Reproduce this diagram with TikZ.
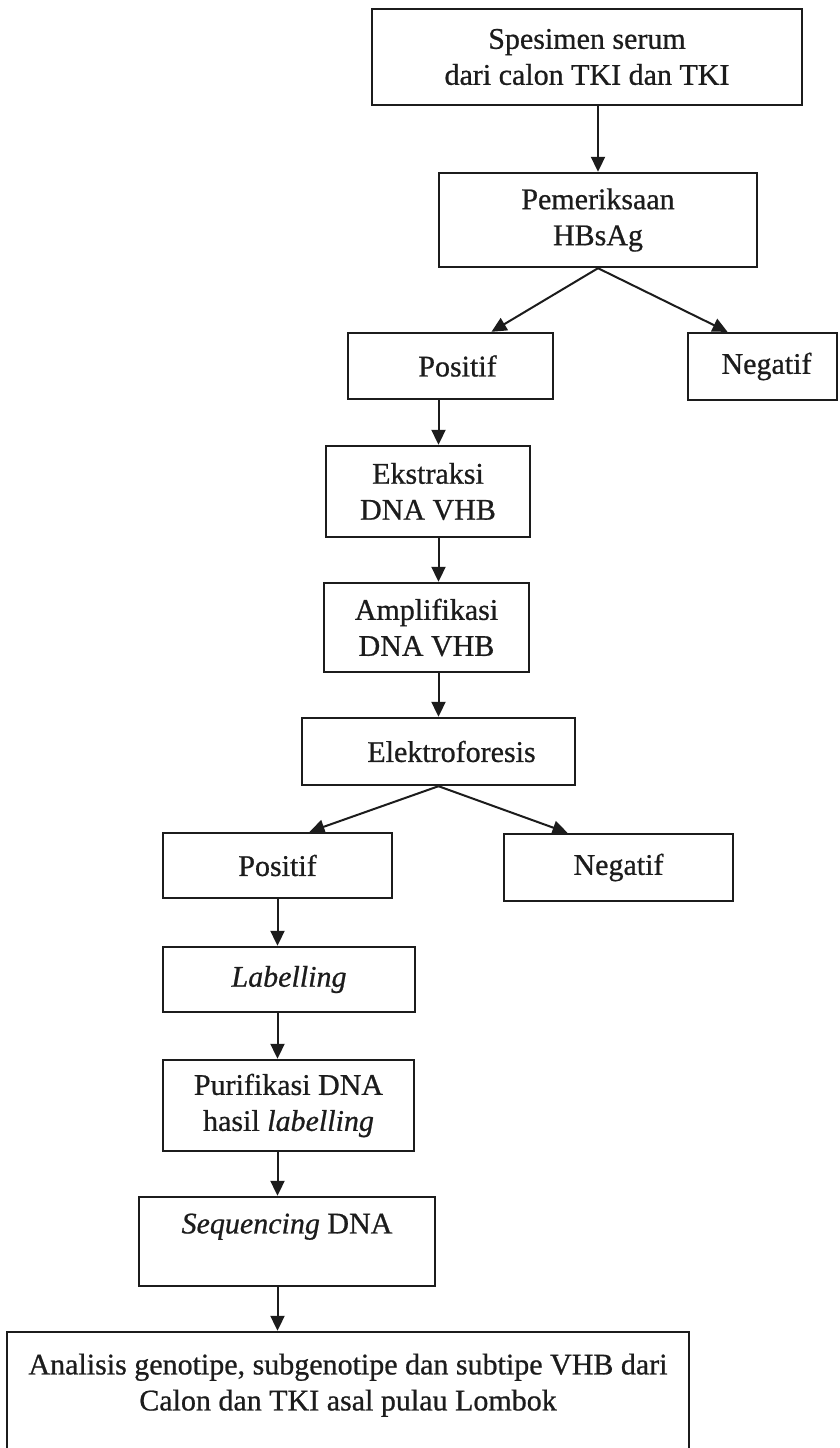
\documentclass[tikz,border=0pt]{standalone}
\usepackage{fontspec}
\setmainfont{Liberation Serif}[FakeBold=0.7]
\usetikzlibrary{arrows.meta}
\definecolor{ink}{RGB}{28,28,28}
\begin{document}
\begin{tikzpicture}[x=1pt,y=-1pt,
  box/.style={draw=ink, text=ink, line width=2.4pt, inner sep=0pt, align=center,
    font=\fontsize{30}{36}\selectfont},
  arr/.style={draw=ink, line width=2pt, -{Triangle[length=15pt,width=14pt]}}]
\useasboundingbox (0,0) rectangle (839,1448);
\clip (0,0) rectangle (839,1448);
\fill[white] (0,0) rectangle (839,1448);

\node[box, minimum width=430pt, minimum height=96pt] (b1) at (587,57) {Spesimen serum\\dari calon TKI dan TKI};
\node[box, minimum width=318pt, minimum height=94pt] (b2) at (598,220) {Pemeriksaan\\HBsAg};
\node[box, minimum width=205pt, minimum height=66pt] (pos1) at (450.5,366) {\hspace{14pt}Positif};
\node[box, minimum width=149pt, minimum height=67pt] (neg1) at (762.5,366.5) {\hspace{8pt}Negatif};
\node[box, minimum width=204pt, minimum height=91pt] (ekstr) at (428,491.5) {Ekstraksi\\DNA VHB};
\node[box, minimum width=205pt, minimum height=89pt] (ampl) at (426.5,627.5) {Amplifikasi\\DNA VHB};
\node[box, minimum width=273pt, minimum height=67pt] (elek) at (438.5,751.5) {\hspace{26pt}Elektroforesis};
\node[box, minimum width=229pt, minimum height=65pt] (pos2) at (277.5,865.5) {Positif};
\node[box, minimum width=229pt, minimum height=67pt] (neg2) at (618.5,867.5) {Negatif};
\node[box, minimum width=252pt, minimum height=65pt] (lab) at (289,979.5) {\textit{Labelling}};
\node[box, minimum width=251pt, minimum height=91pt] (puri) at (288.5,1105.5) {Purifikasi DNA\\hasil \textit{labelling}};
\node[box, minimum width=296pt, minimum height=89pt] (seq) at (287,1241.5) {\textit{Sequencing} DNA\\ \mbox{}};
\node[box, minimum width=682pt, minimum height=136pt] (final) at (348,1400) {Analisis genotipe, subgenotipe dan subtipe VHB dari\\Calon dan TKI asal pulau Lombok\\ \mbox{}};

\draw[arr] (b1.south -| b2.north) -- (b2.north);
\draw[arr] (b2.south) -- ([xshift=41pt]pos1.north);
\draw[arr] (b2.south) -- ([xshift=-35pt]neg1.north);
\draw[arr] (pos1.south -| elek.north) -- (ekstr.north -| elek.north);
\draw[arr] (ekstr.south -| elek.north) -- (ampl.north -| elek.north);
\draw[arr] (ampl.south -| elek.north) -- (elek.north);
\draw[arr] (elek.south) -- ([xshift=32pt]pos2.north);
\draw[arr] (elek.south) -- ([xshift=-51pt]neg2.north);
\draw[arr] (pos2.south) -- (lab.north -| pos2.south);
\draw[arr] (lab.south -| pos2.south) -- (puri.north -| pos2.south);
\draw[arr] (puri.south -| pos2.south) -- (seq.north -| pos2.south);
\draw[arr] (seq.south -| pos2.south) -- (final.north -| pos2.south);
\end{tikzpicture}
\end{document}
